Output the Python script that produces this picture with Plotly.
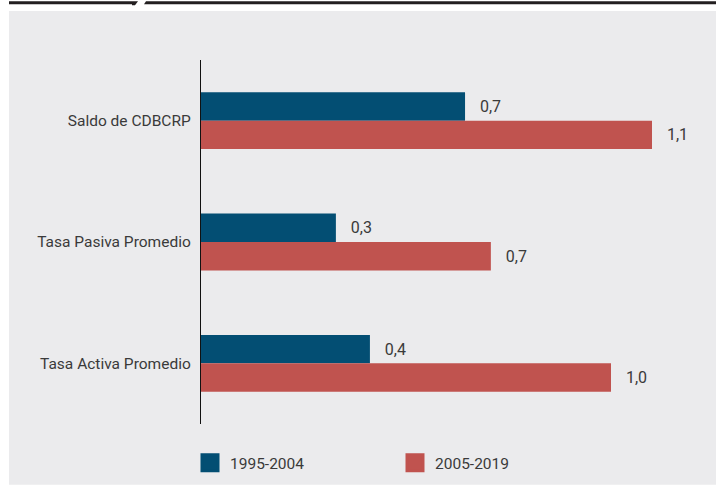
import plotly.graph_objects as go

categories = ["Saldo de CDBCRP", "Tasa Pasiva Promedio", "Tasa Activa Promedio"]
series_names = ["1995-2004", "2005-2019"]
values_1995_2004 = [0.644, 0.329, 0.412]
values_2005_2019 = [1.10, 0.707, 1.00]
labels_1995_2004 = ["0,7", "0,3", "0,4"]
labels_2005_2019 = ["1,1", "0,7", "1,0"]

BLUE = "#034e73"
RED = "#c0534f"
PANEL = "#ebebed"
DARK = "#231f20"
TEXT = "#3a3a3a"
FONT = "Roboto, Lato, sans-serif"

W, H = 716, 492
ML, MR, MT, MB = 201, 23, 60, 60
PW = W - ML - MR
PH = H - MT - MB

NB = "\u00a0"

fig = go.Figure()
for name, vals, labs, col in [
    (series_names[0], values_1995_2004, labels_1995_2004, BLUE),
    (series_names[1], values_2005_2019, labels_2005_2019, RED),
]:
    fig.add_trace(go.Bar(
        y=categories, x=vals, orientation="h", name=name,
        marker=dict(color=col, line=dict(width=0)),
        text=[NB * 3 + t for t in labs], textposition="outside",
        textfont=dict(family=FONT, size=16, color=TEXT),
        cliponaxis=False, showlegend=False, hoverinfo="skip",
    ))
    # legend entries
    fig.add_trace(go.Scatter(
        x=[None], y=[None], mode="markers", name=name,
        marker=dict(symbol="square", size=16, color=col, line=dict(color=col, width=3)),
        showlegend=True, hoverinfo="skip",
    ))

def px_x(p):
    return (p - ML) / PW

def px_y(p):
    return (H - MB - p) / PH

shapes = [
    # gray panel
    dict(type="rect", xref="paper", yref="paper", layer="below",
         x0=px_x(9), x1=px_x(W + 2), y0=px_y(H + 2), y1=px_y(10),
         fillcolor=PANEL, line=dict(width=0)),
    # top dark band (left part with slanted end)
    dict(type="path", xref="paper", yref="paper", layer="below",
         path=f"M {px_x(9)},{px_y(0)} L {px_x(138)},{px_y(0)} L {px_x(135)},{px_y(4)} L {px_x(132)},{px_y(4)} L {px_x(132)},{px_y(3)} L {px_x(9)},{px_y(3)} Z",
         fillcolor=DARK, line=dict(width=0)),
    dict(type="path", xref="paper", yref="paper", layer="below",
         path=f"M {px_x(146)},{px_y(0)} L {px_x(W + 2)},{px_y(0)} L {px_x(W + 2)},{px_y(3)} L {px_x(144)},{px_y(3)} Z",
         fillcolor=DARK, line=dict(width=0)),
]

fig.update_layout(
    width=W, height=H,
    margin=dict(l=ML, r=MR, t=MT, b=MB, pad=0),
    paper_bgcolor="white", plot_bgcolor=PANEL,
    barmode="group", bargap=0.532, bargroupgap=0,
    font=dict(family=FONT, size=15.5, color=TEXT),
    shapes=shapes,
    showlegend=True,
    legend=dict(
        orientation="h", x=px_x(190), y=px_y(472), xanchor="left", yanchor="middle",
        bgcolor="rgba(0,0,0,0)", font=dict(family=FONT, size=15.5, color=TEXT),
        entrywidth=160, entrywidthmode="pixels", itemsizing="trace",
        traceorder="normal",
    ),
    xaxis=dict(range=[0, 1.2], showgrid=False, zeroline=False, showticklabels=False,
               showline=False, fixedrange=True),
    yaxis=dict(autorange="reversed", showgrid=False, zeroline=False,
               showline=True, linecolor="#111111", linewidth=1.3,
               ticks="outside", ticklen=6, tickcolor="rgba(0,0,0,0)",
               tickfont=dict(family=FONT, size=15.5, color=TEXT),
               categoryorder="array", categoryarray=categories, fixedrange=True),
)

fig.write_html("out.html")
